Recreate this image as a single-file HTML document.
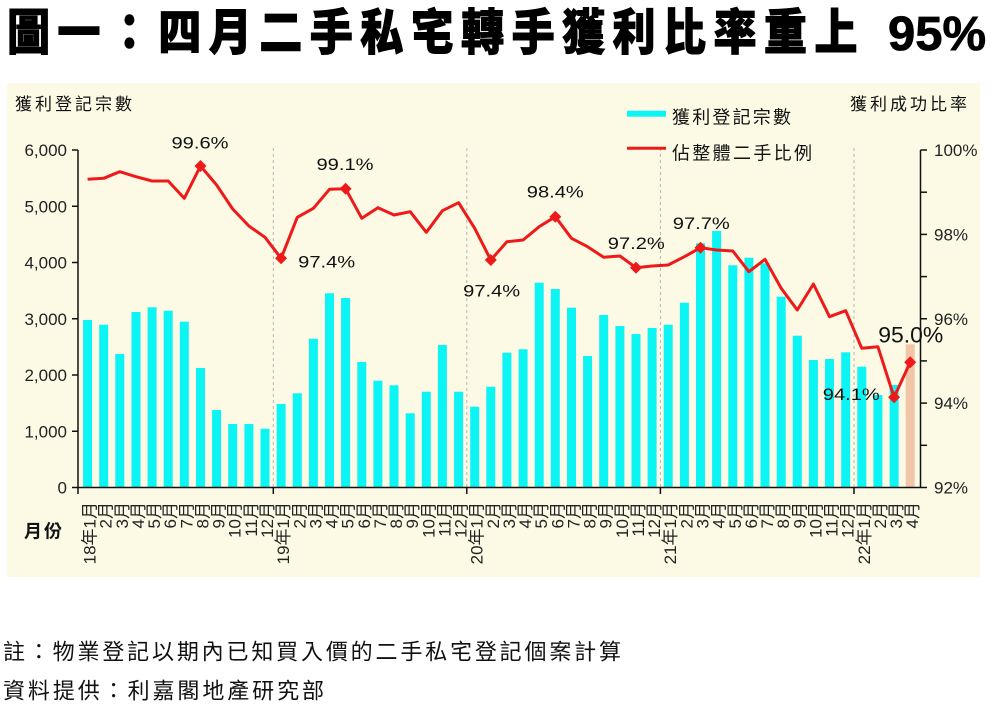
<!DOCTYPE html>
<html><head><meta charset="utf-8"><style>
html,body{margin:0;padding:0;background:#fff;}
svg{display:block;}
.cjk{font-family:"Liberation Sans","Noto Sans CJK TC",sans-serif;}
.num{font-family:"Liberation Sans",sans-serif;}
</style></head><body>
<svg width="1006" height="709" viewBox="0 0 1006 709" xmlns="http://www.w3.org/2000/svg">
<rect x="0" y="0" width="1006" height="709" fill="#ffffff"/>
<!-- Title -->
<g transform="scale(0.88,1)">
<text class="cjk" font-family="'Noto Sans CJK TC',sans-serif" font-size="49" font-weight="900" fill="#000" stroke="#000" stroke-width="1" text-anchor="middle" y="49.5" x="32.4 89.7 147.1 204.4 261.8 319.1 376.5 433.8 491.2 548.5 605.9 663.2 720.6 777.9 835.3 892.6 950.0">圖一：四月二手私宅轉手獲利比率重上</text>
</g>
<text class="num" x="888" y="50" font-size="48" font-weight="bold" fill="#000" stroke="#000" stroke-width="0.8" textLength="98" lengthAdjust="spacingAndGlyphs">95%</text>

<!-- Chart background -->
<rect x="7" y="83" width="973" height="494" fill="#fcfae5"/>

<!-- year dividers -->
<g stroke="#b4b4b4" stroke-width="1" stroke-dasharray="3,3">
<line x1="273.3" y1="148" x2="273.3" y2="487"/>
<line x1="466.8" y1="148" x2="466.8" y2="487"/>
<line x1="660.4" y1="148" x2="660.4" y2="487"/>
<line x1="854" y1="148" x2="854" y2="487"/>
</g>

<!-- Bars -->
<g fill="#0cf4f4">
<rect x="83.1" y="320" width="9" height="167.5"/>
<rect x="99.2" y="324.7" width="9" height="162.8"/>
<rect x="115.3" y="354" width="9" height="133.5"/>
<rect x="131.5" y="312" width="9" height="175.5"/>
<rect x="147.6" y="307.3" width="9" height="180.2"/>
<rect x="163.7" y="310.7" width="9" height="176.8"/>
<rect x="179.8" y="321.7" width="9" height="165.8"/>
<rect x="196.0" y="368" width="9" height="119.5"/>
<rect x="212.1" y="410" width="9" height="77.5"/>
<rect x="228.2" y="424" width="9" height="63.5"/>
<rect x="244.4" y="424" width="9" height="63.5"/>
<rect x="260.5" y="428.7" width="9" height="58.8"/>
<rect x="276.6" y="404" width="9" height="83.5"/>
<rect x="292.8" y="393.3" width="9" height="94.2"/>
<rect x="308.9" y="338.7" width="9" height="148.8"/>
<rect x="325.0" y="293.3" width="9" height="194.2"/>
<rect x="341.1" y="298" width="9" height="189.5"/>
<rect x="357.3" y="362" width="9" height="125.5"/>
<rect x="373.4" y="380.7" width="9" height="106.8"/>
<rect x="389.5" y="385.3" width="9" height="102.2"/>
<rect x="405.7" y="413.3" width="9" height="74.2"/>
<rect x="421.8" y="391.7" width="9" height="95.8"/>
<rect x="437.9" y="345" width="9" height="142.5"/>
<rect x="454.1" y="391.7" width="9" height="95.8"/>
<rect x="470.2" y="406.7" width="9" height="80.8"/>
<rect x="486.3" y="386.7" width="9" height="100.8"/>
<rect x="502.4" y="352.7" width="9" height="134.8"/>
<rect x="518.6" y="349.3" width="9" height="138.2"/>
<rect x="534.7" y="282.7" width="9" height="204.8"/>
<rect x="550.8" y="289" width="9" height="198.5"/>
<rect x="567.0" y="307.7" width="9" height="179.8"/>
<rect x="583.1" y="356" width="9" height="131.5"/>
<rect x="599.2" y="315" width="9" height="172.5"/>
<rect x="615.4" y="326" width="9" height="161.5"/>
<rect x="631.5" y="334" width="9" height="153.5"/>
<rect x="647.6" y="328" width="9" height="159.5"/>
<rect x="663.7" y="324.7" width="9" height="162.8"/>
<rect x="679.9" y="302.7" width="9" height="184.8"/>
<rect x="696.0" y="243.3" width="9" height="244.2"/>
<rect x="712.1" y="231" width="9" height="256.5"/>
<rect x="728.3" y="265.3" width="9" height="222.2"/>
<rect x="744.4" y="257.7" width="9" height="229.8"/>
<rect x="760.5" y="263.3" width="9" height="224.2"/>
<rect x="776.7" y="296.7" width="9" height="190.8"/>
<rect x="792.8" y="335.7" width="9" height="151.8"/>
<rect x="808.9" y="360" width="9" height="127.5"/>
<rect x="825.0" y="359" width="9" height="128.5"/>
<rect x="841.2" y="352.3" width="9" height="135.2"/>
<rect x="857.3" y="366.7" width="9" height="120.8"/>
<rect x="873.4" y="395" width="9" height="92.5"/>
<rect x="889.6" y="385" width="9" height="102.5"/>
</g>
<rect x="905.7" y="344.3" width="9" height="143.2" fill="#f3c5a8"/>

<!-- Line -->
<polyline fill="none" stroke="#ee1a1a" stroke-width="3" stroke-linejoin="round" points="87.6,179.3 103.7,178.3 119.8,171.7 136.0,176.7 152.1,181 168.2,181 184.3,198.3 200.5,166 216.6,185 232.7,209 248.9,226 265.0,237.3 281.1,258.3 297.3,217.3 313.4,208.3 329.5,189.3 345.6,188.7 361.8,218.3 377.9,207.7 394.0,215 410.2,211.7 426.3,232.3 442.4,210.7 458.6,202.7 474.7,228.3 490.8,260 506.9,241.7 523.1,240 539.2,226.7 555.3,216.7 571.5,238.3 587.6,246.7 603.7,257.3 619.9,256 636.0,267.7 652.1,266 668.2,265 684.4,256.7 700.5,247.7 716.6,250 732.8,251 748.9,271.7 765.0,259.3 781.2,288.3 797.3,310 813.4,284 829.5,316.7 845.7,310.7 861.8,348.3 877.9,346.7 894.1,397.3 910.2,362.3"/>
<g fill="#ee1a1a">
<polygon points="200.5,160 206.5,166 200.5,172 194.5,166"/>
<polygon points="281.1,252.3 287.1,258.3 281.1,264.3 275.1,258.3"/>
<polygon points="345.6,182.7 351.6,188.7 345.6,194.7 339.6,188.7"/>
<polygon points="490.8,254 496.8,260 490.8,266 484.8,260"/>
<polygon points="555.3,210.7 561.3,216.7 555.3,222.7 549.3,216.7"/>
<polygon points="636.0,261.7 642.0,267.7 636.0,273.7 630.0,267.7"/>
<polygon points="700.5,241.7 706.5,247.7 700.5,253.7 694.5,247.7"/>
<polygon points="894.1,391.3 900.1,397.3 894.1,403.3 888.1,397.3"/>
<polygon points="910.2,356.3 916.2,362.3 910.2,368.3 904.2,362.3"/>
</g>

<!-- Axes -->
<g stroke="#111" stroke-width="1.5" fill="none">
<line x1="78" y1="150" x2="78" y2="487.5"/>
<line x1="920.5" y1="150" x2="920.5" y2="487.5"/>
<line x1="78" y1="487.5" x2="920.5" y2="487.5"/>
<line x1="72" y1="150" x2="78" y2="150"/>
<line x1="72" y1="206.25" x2="78" y2="206.25"/>
<line x1="72" y1="262.5" x2="78" y2="262.5"/>
<line x1="72" y1="318.75" x2="78" y2="318.75"/>
<line x1="72" y1="375" x2="78" y2="375"/>
<line x1="72" y1="431.25" x2="78" y2="431.25"/>
<line x1="72" y1="487.5" x2="78" y2="487.5"/>
<line x1="920.5" y1="150" x2="927" y2="150"/>
<line x1="920.5" y1="192.2" x2="927" y2="192.2"/>
<line x1="920.5" y1="234.4" x2="927" y2="234.4"/>
<line x1="920.5" y1="276.6" x2="927" y2="276.6"/>
<line x1="920.5" y1="318.75" x2="927" y2="318.75"/>
<line x1="920.5" y1="360.9" x2="927" y2="360.9"/>
<line x1="920.5" y1="403.1" x2="927" y2="403.1"/>
<line x1="920.5" y1="445.3" x2="927" y2="445.3"/>
<line x1="920.5" y1="487.5" x2="927" y2="487.5"/>
<line x1="78" y1="487.5" x2="78" y2="494"/>
<line x1="273.3" y1="487.5" x2="273.3" y2="494"/>
<line x1="466.8" y1="487.5" x2="466.8" y2="494"/>
<line x1="660.4" y1="487.5" x2="660.4" y2="494"/>
<line x1="854" y1="487.5" x2="854" y2="494"/>
</g>

<!-- Left axis labels -->
<g class="num" font-size="17" fill="#222" text-anchor="end">
<text x="67" y="156">6,000</text>
<text x="67" y="212.25">5,000</text>
<text x="67" y="268.5">4,000</text>
<text x="67" y="324.75">3,000</text>
<text x="67" y="381">2,000</text>
<text x="67" y="437.25">1,000</text>
<text x="67" y="493.5">0</text>
</g>
<!-- Right axis labels -->
<g class="num" font-size="17" fill="#222">
<text x="934" y="156">100%</text>
<text x="934" y="240.4">98%</text>
<text x="934" y="324.75">96%</text>
<text x="934" y="409.1">94%</text>
<text x="934" y="493.5">92%</text>
</g>

<!-- Axis titles -->
<text class="cjk" x="15" y="110" font-size="17" fill="#111" textLength="117" lengthAdjust="spacing">獲利登記宗數</text>
<text class="cjk" x="850" y="110" font-size="17" fill="#111" textLength="117" lengthAdjust="spacing">獲利成功比率</text>
<text class="cjk" x="24" y="537.5" font-size="18" font-weight="bold" fill="#111" textLength="38" lengthAdjust="spacing">月份</text>

<!-- Legend -->
<rect x="627" y="110.7" width="39" height="6" fill="#0cf4f4"/>
<text class="cjk" x="672" y="123.5" font-size="18" fill="#111" textLength="119" lengthAdjust="spacing">獲利登記宗數</text>
<line x1="627" y1="148.3" x2="666" y2="148.3" stroke="#ee1a1a" stroke-width="3"/>
<text class="cjk" x="672" y="159.3" font-size="18" fill="#111" textLength="140" lengthAdjust="spacing">佔整體二手比例</text>

<!-- Data labels -->
<g class="num" font-size="17" fill="#111" text-anchor="middle">
<text x="200" y="148.3" textLength="57" lengthAdjust="spacingAndGlyphs">99.6%</text>
<text x="345" y="170" textLength="57" lengthAdjust="spacingAndGlyphs">99.1%</text>
<text x="326.7" y="267.3" textLength="57" lengthAdjust="spacingAndGlyphs">97.4%</text>
<text x="491.7" y="296.7" textLength="57" lengthAdjust="spacingAndGlyphs">97.4%</text>
<text x="555.3" y="197.7" textLength="57" lengthAdjust="spacingAndGlyphs">98.4%</text>
<text x="636.3" y="249" textLength="57" lengthAdjust="spacingAndGlyphs">97.2%</text>
<text x="701.3" y="229" textLength="57" lengthAdjust="spacingAndGlyphs">97.7%</text>
<text x="851.3" y="400" textLength="57" lengthAdjust="spacingAndGlyphs">94.1%</text>
</g>
<text class="num" x="910.8" y="342.7" font-size="22" fill="#111" text-anchor="middle" textLength="65" lengthAdjust="spacingAndGlyphs">95.0%</text>

<!-- X axis labels -->
<g class="cjk" font-size="17" fill="#222" text-anchor="end">
<text transform="translate(95.6,502) rotate(-90)">18年1月</text>
<text transform="translate(111.7,502) rotate(-90)">2月</text>
<text transform="translate(127.8,502) rotate(-90)">3月</text>
<text transform="translate(144.0,502) rotate(-90)">4月</text>
<text transform="translate(160.1,502) rotate(-90)">5月</text>
<text transform="translate(176.2,502) rotate(-90)">6月</text>
<text transform="translate(192.3,502) rotate(-90)">7月</text>
<text transform="translate(208.5,502) rotate(-90)">8月</text>
<text transform="translate(224.6,502) rotate(-90)">9月</text>
<text transform="translate(240.7,502) rotate(-90)">10月</text>
<text transform="translate(256.9,502) rotate(-90)">11月</text>
<text transform="translate(273.0,502) rotate(-90)">12月</text>
<text transform="translate(289.1,502) rotate(-90)">19年1月</text>
<text transform="translate(305.3,502) rotate(-90)">2月</text>
<text transform="translate(321.4,502) rotate(-90)">3月</text>
<text transform="translate(337.5,502) rotate(-90)">4月</text>
<text transform="translate(353.6,502) rotate(-90)">5月</text>
<text transform="translate(369.8,502) rotate(-90)">6月</text>
<text transform="translate(385.9,502) rotate(-90)">7月</text>
<text transform="translate(402.0,502) rotate(-90)">8月</text>
<text transform="translate(418.2,502) rotate(-90)">9月</text>
<text transform="translate(434.3,502) rotate(-90)">10月</text>
<text transform="translate(450.4,502) rotate(-90)">11月</text>
<text transform="translate(466.6,502) rotate(-90)">12月</text>
<text transform="translate(482.7,502) rotate(-90)">20年1月</text>
<text transform="translate(498.8,502) rotate(-90)">2月</text>
<text transform="translate(514.9,502) rotate(-90)">3月</text>
<text transform="translate(531.1,502) rotate(-90)">4月</text>
<text transform="translate(547.2,502) rotate(-90)">5月</text>
<text transform="translate(563.3,502) rotate(-90)">6月</text>
<text transform="translate(579.5,502) rotate(-90)">7月</text>
<text transform="translate(595.6,502) rotate(-90)">8月</text>
<text transform="translate(611.7,502) rotate(-90)">9月</text>
<text transform="translate(627.9,502) rotate(-90)">10月</text>
<text transform="translate(644.0,502) rotate(-90)">11月</text>
<text transform="translate(660.1,502) rotate(-90)">12月</text>
<text transform="translate(676.2,502) rotate(-90)">21年1月</text>
<text transform="translate(692.4,502) rotate(-90)">2月</text>
<text transform="translate(708.5,502) rotate(-90)">3月</text>
<text transform="translate(724.6,502) rotate(-90)">4月</text>
<text transform="translate(740.8,502) rotate(-90)">5月</text>
<text transform="translate(756.9,502) rotate(-90)">6月</text>
<text transform="translate(773.0,502) rotate(-90)">7月</text>
<text transform="translate(789.2,502) rotate(-90)">8月</text>
<text transform="translate(805.3,502) rotate(-90)">9月</text>
<text transform="translate(821.4,502) rotate(-90)">10月</text>
<text transform="translate(837.5,502) rotate(-90)">11月</text>
<text transform="translate(853.7,502) rotate(-90)">12月</text>
<text transform="translate(869.8,502) rotate(-90)">22年1月</text>
<text transform="translate(885.9,502) rotate(-90)">2月</text>
<text transform="translate(902.1,502) rotate(-90)">3月</text>
<text transform="translate(918.2,502) rotate(-90)">4月</text>
</g>

<!-- Notes -->
<text class="cjk" x="3" y="659.5" font-size="22" fill="#111" textLength="618" lengthAdjust="spacing">註：物業登記以期內已知買入價的二手私宅登記個案計算</text>
<text class="cjk" x="3" y="698.5" font-size="22" fill="#111" textLength="321" lengthAdjust="spacing">資料提供：利嘉閣地產研究部</text>
</svg>
</body></html>
